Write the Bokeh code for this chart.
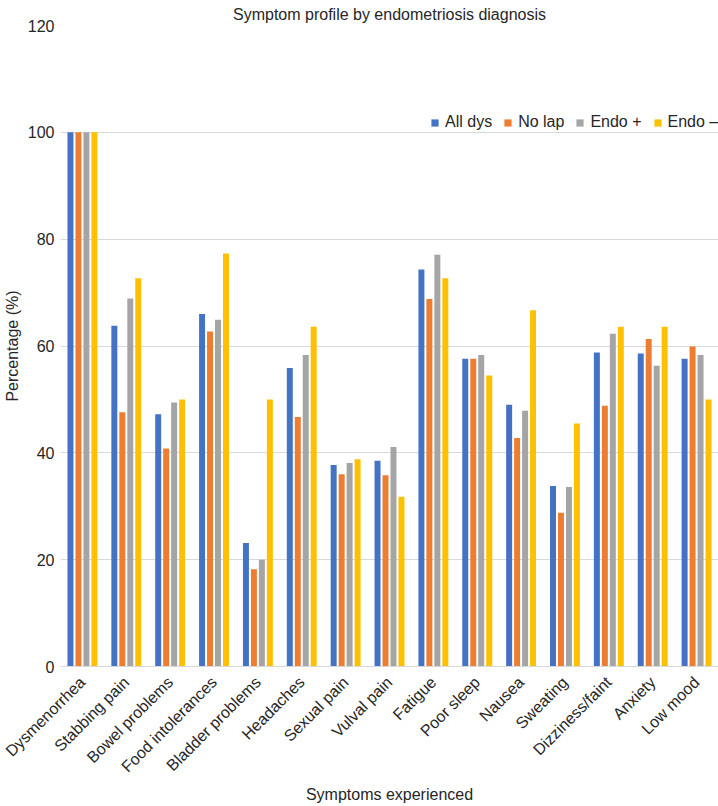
import math
from bokeh.plotting import figure
from bokeh.models import ColumnDataSource, FactorRange
from bokeh.transform import dodge
from bokeh.embed import file_html
from bokeh.resources import INLINE

categories = ["Dysmenorrhea", "Stabbing pain", "Bowel problems", "Food intolerances",
              "Bladder problems", "Headaches", "Sexual pain", "Vulval pain", "Fatigue",
              "Poor sleep", "Nausea", "Sweating", "Dizziness/faint", "Anxiety", "Low mood"]
all_dys = [100, 63.8, 47.2, 66.0, 23.1, 55.9, 37.7, 38.5, 74.3, 57.6, 49.0, 33.8, 58.8, 58.6, 57.6]
no_lap = [100, 47.6, 40.8, 62.7, 18.2, 46.7, 36.0, 35.8, 68.8, 57.6, 42.8, 28.8, 48.8, 61.3, 59.9]
endo_pos = [100, 68.9, 49.4, 64.9, 20.0, 58.3, 38.1, 41.1, 77.1, 58.3, 47.9, 33.6, 62.3, 56.3, 58.3]
endo_neg = [100, 72.7, 50.0, 77.3, 50.0, 63.6, 38.8, 31.8, 72.7, 54.5, 66.7, 45.5, 63.6, 63.6, 50.0]
series_names = ["All dys", "No lap", "Endo +", "Endo \u2013"]
series_colors = ["#4472C4", "#ED7D31", "#A5A5A5", "#FFC000"]
y_ticks = [0, 20, 40, 60, 80, 100, 120]

FONT = "Liberation Sans"
TXT = "#262626"

source = ColumnDataSource(dict(cat=categories, s0=all_dys, s1=no_lap, s2=endo_pos, s3=endo_neg))

p = figure(x_range=FactorRange(*categories), y_range=(0, 120),
           width=718, height=806, output_backend="svg", toolbar_location=None,
           title="Symptom profile by endometriosis diagnosis",
           min_border_left=58, min_border_right=0, min_border_top=24, min_border_bottom=138)
p.outline_line_color = None
p.background_fill_color = "white"
p.x_range.range_padding = 0

p.title.align = "center"
p.title.text_font = FONT
p.title.text_font_size = "16px"
p.title.text_font_style = "normal"
p.title.text_color = TXT
p.title.standoff = 6
p.title.offset = 0

slot = 8.0 / 44.0
bw = 6.0 / 44.0
for i, (name, col) in enumerate(zip(series_names, series_colors)):
    p.vbar(x=dodge("cat", (i - 1.5) * slot, range=p.x_range), top="s%d" % i, width=bw,
           source=source, color=col, line_color=None, legend_label=name)

p.yaxis.ticker = y_ticks
p.yaxis.axis_line_color = None
p.yaxis.major_tick_line_color = None
p.yaxis.major_tick_out = 0
p.yaxis.major_tick_in = 0
p.yaxis.minor_tick_line_color = None
p.yaxis.major_label_standoff = 6
p.yaxis.major_label_text_font = FONT
p.yaxis.major_label_text_font_size = "16px"
p.yaxis.major_label_text_color = TXT
p.yaxis.axis_label = "Percentage (%)"
p.yaxis.axis_label_text_font = FONT
p.yaxis.axis_label_text_font_size = "16px"
p.yaxis.axis_label_text_font_style = "normal"
p.yaxis.axis_label_text_color = TXT
p.yaxis.axis_label_standoff = 4

p.xaxis.axis_line_color = "#D9D9D9"
p.xaxis.major_tick_line_color = None
p.xaxis.major_tick_out = 0
p.xaxis.major_tick_in = 0
p.xaxis.minor_tick_line_color = None
p.xaxis.major_label_orientation = math.pi / 4
p.xaxis.major_label_standoff = 13
p.xaxis.major_label_text_font = FONT
p.xaxis.major_label_text_font_size = "16px"
p.xaxis.major_label_text_color = TXT
p.xaxis.axis_label = "Symptoms experienced"
p.xaxis.axis_label_text_font = FONT
p.xaxis.axis_label_text_font_size = "16px"
p.xaxis.axis_label_text_font_style = "normal"
p.xaxis.axis_label_text_color = TXT
p.xaxis.axis_label_standoff = 2

p.xgrid.grid_line_color = None
p.ygrid.grid_line_color = "#D9D9D9"
p.ygrid.grid_line_width = 1

lg = p.legend[0]
lg.orientation = "horizontal"
lg.location = (370, 535)
lg.border_line_color = None
lg.background_fill_alpha = 0
lg.glyph_width = 9
lg.glyph_height = 9
lg.label_standoff = 6
lg.spacing = 11
lg.padding = 0
lg.margin = 0
lg.label_text_font = FONT
lg.label_text_font_size = "16px"
lg.label_text_color = TXT

open("out.html", "w").write(file_html(p, INLINE))
